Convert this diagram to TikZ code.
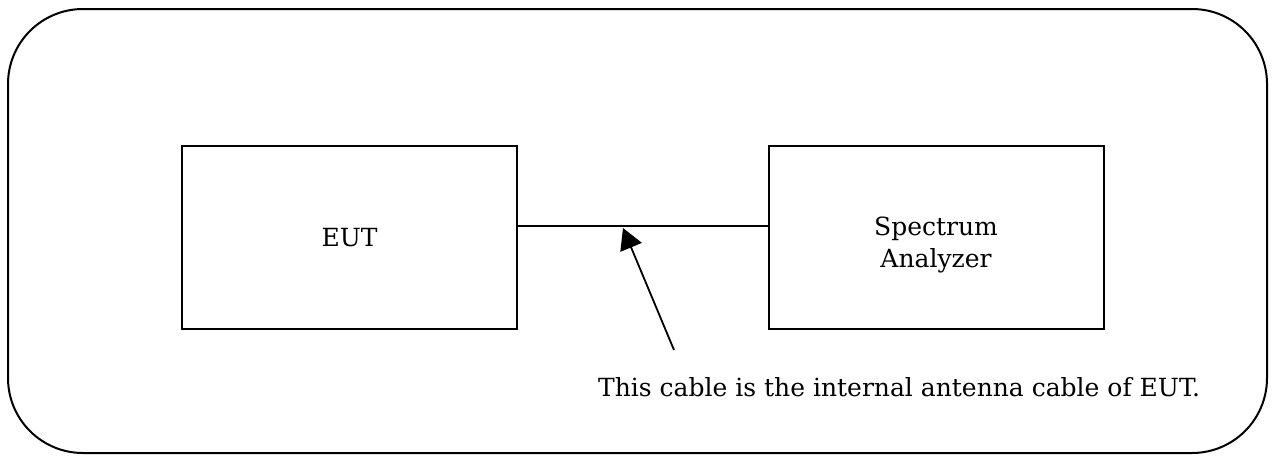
\documentclass[tikz,border=0pt]{standalone}
\usepackage{fontspec}
\setmainfont{DejaVu Serif}
\usetikzlibrary{arrows.meta}
\begin{document}
\begin{tikzpicture}[x=1pt,y=-1pt,
  every node/.style={font=\fontsize{25}{32}\selectfont, inner sep=0pt},
  unitbox/.style={draw, line width=2pt, minimum width=335pt, minimum height=183pt},
  wire/.style={line width=2pt},
  pointer/.style={line width=1.8pt, -{Triangle[length=21pt,width=23pt]}}]
  \useasboundingbox (0,0) rectangle (1273,455);
  % outer frame
  \draw[line width=2pt, rounded corners=75pt] (8,9) rectangle (1267,453);
  % equipment blocks
  \node[unitbox] (eut) at (349.5,237.5) {EUT};
  \node[unitbox] (sa) at (936,237.5) {};
  \node[align=center] (satext) at ([yshift=-7pt]sa.center) {Spectrum\\Analyzer};
  % antenna cable between them
  \draw[wire] ([yshift=11.5pt]eut.east) -- ([yshift=11.5pt]sa.west);
  % pointer to the cable
  \coordinate (tail) at (674,350);
  \coordinate (tip) at (623,228);
  \draw[pointer] (tail) -- (tip);
  \node[anchor=base west] (note) at (598,396) {This cable is the internal antenna cable of EUT.};
\end{tikzpicture}
\end{document}
